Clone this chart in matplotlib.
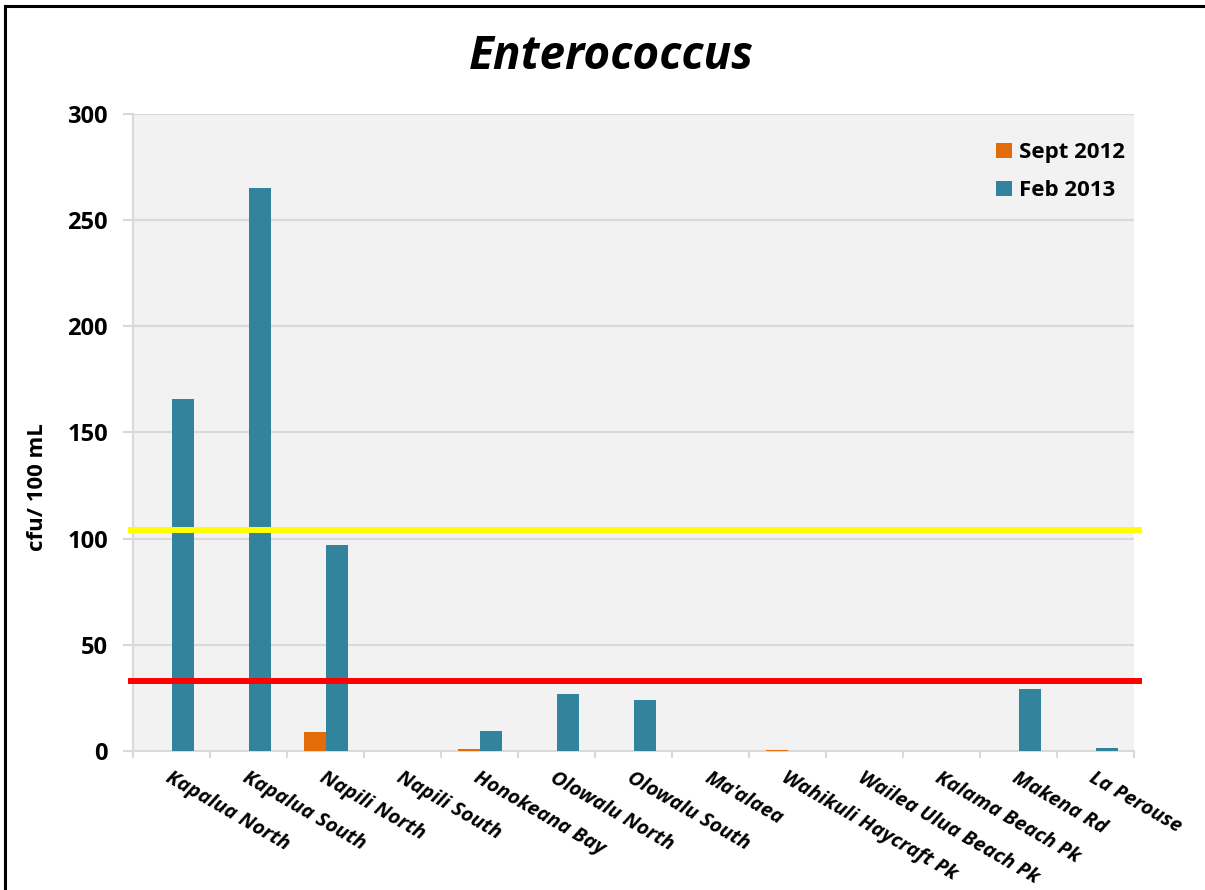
import matplotlib
matplotlib.use('Agg')
import matplotlib.pyplot as plt
from matplotlib.lines import Line2D
import numpy as np

plt.rcParams['font.family'] = ['Open Sans', 'DejaVu Sans']

# sampling sites, west Maui to south Maui
sites = ['Kapalua North', 'Kapalua South', 'Napili North', 'Napili South',
         'Honokeana Bay', 'Olowalu North', 'Olowalu South', "Ma'alaea",
         'Wahikuli Haycraft Pk', 'Wailea Ulua Beach Pk', 'Kalama Beach Pk',
         'Makena Rd', 'La Perouse']

# enterococcus counts, cfu / 100 mL
sept_2012 = [0, 0, 9, 0, 1, 0, 0, 0, 0.6, 0, 0, 0, 0]
feb_2013 = [166, 265, 97, 0, 9.5, 27, 24, 0, 0, 0, 0, 29, 1.3]

# reference levels
upper_limit = 104
lower_limit = 33

teal = '#31849B'
orange = '#E36C09'
grid_grey = '#D9D9D9'

fig = plt.figure(figsize=(12.05, 8.9), dpi=100, facecolor='white')
ax = fig.add_axes([0.1104, 0.1562, 0.8307, 0.7157])
ax.set_facecolor('#F2F2F2')

x = np.arange(len(sites))
w = 0.286
ax.bar(x - w / 2, sept_2012, w, color=orange, label='Sept 2012', zorder=3)
ax.bar(x + w / 2, feb_2013, w, color=teal, label='Feb 2013', zorder=3)

ax.axhline(upper_limit, xmin=-0.002, xmax=1.005, color='#FFFF00', lw=4.3,
           clip_on=False, zorder=4)
ax.axhline(lower_limit, xmin=-0.002, xmax=1.005, color='#FF0000', lw=4.3,
           clip_on=False, zorder=4)

ax.set_xlim(-0.5, len(sites) - 0.5)
ax.set_ylim(0, 300)
ax.set_yticks(range(0, 301, 50))
ax.grid(axis='y', color=grid_grey, lw=1.5, zorder=0)

for side in ['top', 'right']:
    ax.spines[side].set_visible(False)
for side in ['left', 'bottom']:
    ax.spines[side].set_color(grid_grey)
    ax.spines[side].set_linewidth(1.5)

# tick marks between categories, labels at category centres
ax.set_xticks(np.arange(-0.5, len(sites), 1.0))
ax.set_xticklabels([])
ax.set_xticks(x, minor=True)
ax.set_xticklabels(sites, minor=True, rotation=-30, ha='left',
                   rotation_mode='anchor', fontsize=14.5, fontweight='bold',
                   fontstyle='italic')
ax.tick_params(axis='x', which='major', length=5, color=grid_grey, width=1.5)
ax.tick_params(axis='x', which='minor', length=0, pad=12)
ax.tick_params(axis='y', length=7, color=grid_grey, width=1.5, pad=11,
               labelsize=17)
for lbl in ax.get_yticklabels():
    lbl.set_fontweight('bold')

fig.text(0.0315, 0.453, 'cfu/ 100 mL', rotation=90, ha='center', va='center',
         fontsize=16, fontweight='bold')
fig.text(0.5075, 0.936, 'Enterococcus', ha='center', va='center',
         fontsize=33, fontweight='bold', fontstyle='italic')

ax.legend(loc='upper left', bbox_to_anchor=(0.851, 0.973), frameon=False,
          borderpad=0, handlelength=0.73, handleheight=0.7, handletextpad=0.32,
          labelspacing=0.77, prop={'size': 16, 'weight': 'bold'})

# black frame on the left and top edges
fig.add_artist(Line2D([0.0045, 0.0045], [0, 0.9936], color='black', lw=2.2,
                      transform=fig.transFigure))
fig.add_artist(Line2D([0.0045, 1], [0.9936, 0.9936], color='black', lw=2.2,
                      transform=fig.transFigure))

fig.savefig('out.png', dpi=100, facecolor='white')
